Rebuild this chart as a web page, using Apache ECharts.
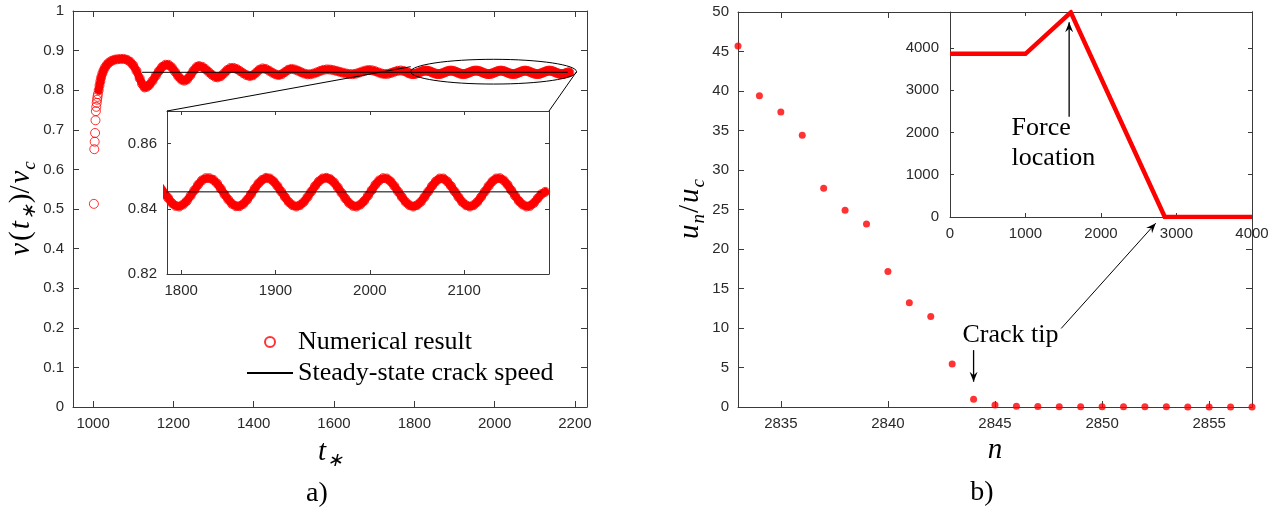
<!DOCTYPE html>
<html>
<head>
<meta charset="utf-8">
<script src="https://cdn.jsdelivr.net/npm/echarts@6/dist/echarts.min.js"></script>
<style>
html, body { margin: 0; padding: 0; background: #fff; }
#chart { width: 1280px; height: 514px; }
</style>
</head>
<body>
<div id="chart"></div>
<script>
// ---------- panel a) crack speed v(t*)/vc ----------
// first crack advances, steep start
var risePoints = [[1002,0.513],[1003,0.651],[1004,0.670],[1005,0.692],[1006,0.724],[1007,0.747],[1008,0.758],
    [1009,0.768],[1010,0.776],[1011,0.783],[1012,0.790],[1014,0.800],[1016,0.812],[1018,0.822],[1020,0.832],
    [1023,0.842],[1026,0.850],[1030,0.858],[1035,0.865],[1040,0.870],[1046,0.874],[1053,0.877]];
// decaying oscillation
var wavePoints = [[1060,0.878],[1068,0.879],[1076,0.879],[1084,0.877],[1092,0.872],[1100,0.863],[1108,0.849],
    [1116,0.830],[1122,0.816],[1128,0.807],[1134,0.8086],[1140,0.8132],[1148,0.8235],[1156,0.836],[1164,0.8485],
    [1172,0.8588],[1180,0.8643],[1188,0.8641],[1196,0.8576],[1204,0.8467],[1212,0.8352],[1220,0.8266],[1227,0.824],
    [1234,0.8271],[1242,0.8371],[1250,0.8493],[1258,0.8587],[1264,0.861],[1272,0.859],[1280,0.8532],[1288,0.8458],
    [1296,0.8388],[1304,0.8337],[1310,0.8325],[1318,0.8353],[1326,0.8425],[1334,0.8507],[1342,0.856],[1350,0.8563],
    [1358,0.8533],[1366,0.8483],[1374,0.8427],[1382,0.8381],[1390,0.8358],[1398,0.8375],[1406,0.8443],[1414,0.8518],
    [1422,0.855],[1430,0.8535],[1438,0.8495],[1446,0.8444],[1454,0.8402],[1462,0.8383],[1470,0.8403],[1478,0.846],
    [1486,0.8517],[1494,0.8537],[1502,0.8523],[1510,0.8493],[1518,0.8454],[1526,0.842],[1534,0.8402],[1542,0.8404],
    [1550,0.8423],[1558,0.8454],[1566,0.8488],[1574,0.8514],[1582,0.8525],[1590,0.8521],[1598,0.8508],[1606,0.8487],
    [1614,0.8465],[1622,0.8443],[1630,0.8422],[1638,0.8409],[1646,0.8405],[1654,0.8416],[1662,0.8441],[1670,0.8471],
    [1678,0.8496],[1686,0.851],[1694,0.8504],[1702,0.8482],[1710,0.8451],[1718,0.8423],[1726,0.8409],[1734,0.8413],
    [1742,0.8435],[1750,0.8464],[1758,0.8489],[1766,0.8498],[1774,0.8484],[1782,0.845]];
// late part
var tailPoints = [[1786,0.8434],[1790,0.8418],[1794,0.8409],[1798,0.8407],[1802,0.8413],[1806,0.8424],[1810,0.844],
    [1814,0.8457],[1818,0.8474],[1822,0.8487],[1826,0.8494],[1830,0.8494],[1834,0.8489],[1838,0.8478],[1842,0.8462],
    [1846,0.8444],[1850,0.8428],[1854,0.8415],[1858,0.8408],[1862,0.8408],[1866,0.8415],[1870,0.8428],[1874,0.8444],
    [1878,0.8462],[1882,0.8478],[1886,0.8489],[1890,0.8495],[1894,0.8493],[1898,0.8484],[1902,0.847],[1906,0.8453],
    [1910,0.8436],[1914,0.8421],[1918,0.8411],[1922,0.8407],[1926,0.8411],[1930,0.8421],[1934,0.8436],[1938,0.8453],
    [1942,0.847],[1946,0.8484],[1950,0.8493],[1954,0.8495],[1958,0.8491],[1962,0.8481],[1966,0.8466],[1970,0.8449],
    [1974,0.8432],[1978,0.8418],[1982,0.8409],[1986,0.8407],[1990,0.8413],[1994,0.8424],[1998,0.844],[2002,0.8457],
    [2006,0.8474],[2010,0.8487],[2014,0.8494],[2018,0.8493],[2022,0.8484],[2026,0.847],[2030,0.8453],[2034,0.8436],
    [2038,0.8421],[2042,0.8411],[2046,0.8407],[2050,0.8411],[2054,0.8421],[2058,0.8436],[2062,0.8453],[2066,0.847],
    [2070,0.8484],[2074,0.8493],[2078,0.8493],[2082,0.8484],[2086,0.847],[2090,0.8453],[2094,0.8436],[2098,0.8421],
    [2102,0.8411],[2106,0.8407],[2110,0.8411],[2114,0.8421],[2118,0.8436],[2122,0.8453],[2126,0.847],[2130,0.8484],
    [2134,0.8493],[2138,0.8494],[2142,0.8487],[2146,0.8474],[2150,0.8457],[2154,0.844],[2158,0.8424],[2162,0.8413],
    [2166,0.8407],[2170,0.8409],[2174,0.8418],[2178,0.8432],[2182,0.8445],[2186,0.8452]];
var numerical = risePoints.concat(wavePoints, tailPoints);
// where the circles overlap into a continuous band
var bandStartT = 1014;

var steadyT = [1122, 2182];
var steadySpeed = 0.8452;

var ticksTa = [1000, 1200, 1400, 1600, 1800, 2000, 2200];
var ticksVa = [0, 0.1, 0.2, 0.3, 0.4, 0.5, 0.6, 0.7, 0.8, 0.9, 1];
var ticksTzoom = [1800, 1900, 2000, 2100];
var ticksVzoom = [0.82, 0.84, 0.86];

// ---------- panel b) displacement u_n/u_c ----------
var nodeN = [2833, 2834, 2835, 2836, 2837, 2838, 2839, 2840, 2841, 2842, 2843, 2844, 2845,
    2846, 2847, 2848, 2849, 2850, 2851, 2852, 2853, 2854, 2855, 2856, 2857];
var uRatio = [45.7, 39.4, 37.35, 34.4, 27.7, 24.9, 23.15, 17.15, 13.2, 11.45, 5.45, 0.98, 0.25,
    0.08, 0.05, 0.04, 0.03, 0.03, 0.02, 0.02, 0.02, 0.01, 0.01, 0.01, 0.01];
// whole chain, inset
var chainN = [0, 1000, 1600, 2845, 4000];
var chainU = [3860, 3860, 4840, 0, 0];

var ticksNb = [2835, 2840, 2845, 2850, 2855];
var ticksNbTop = [2835, 2840];          // the rest is under the inset
var ticksUb = [0, 5, 10, 15, 20, 25, 30, 35, 40, 45, 50];
var ticksUbRight = [5, 10, 15, 20];
var ticksChainN = [0, 1000, 2000, 3000, 4000];
var ticksChainU = [0, 1000, 2000, 3000, 4000];

var axisColor = '#3a3a3a';
var labelColor = '#2a2a2a';
var serif = 'Liberation Serif';

var mathRich = {
    i: { fontFamily: serif, fontStyle: 'italic', fontSize: 29, lineHeight: 36, color: '#000', padding: [0, 1, 0, 1] },
    r: { fontFamily: serif, fontSize: 29, lineHeight: 36, color: '#000', padding: [0, 1, 0, 1] },
    s: { fontFamily: serif, fontStyle: 'italic', fontSize: 19, lineHeight: 19, verticalAlign: 'bottom', color: '#000' }
};

function valueAxis(grid, pos, min, max, ticks, labels, tickLen, margin, extra) {
    var ax = {
        type: 'value', gridIndex: grid, position: pos, min: min, max: max,
        axisLine: { show: true, onZero: false, lineStyle: { color: axisColor, width: 1 } },
        axisTick: { show: true, inside: true, length: tickLen, customValues: ticks, lineStyle: { color: axisColor } },
        axisLabel: { show: labels, customValues: ticks, margin: margin, color: labelColor,
            fontFamily: 'Liberation Sans', fontSize: 15,
            formatter: function (v) { return String(v); } },
        splitLine: { show: false }
    };
    for (var k in extra) ax[k] = extra[k];
    return ax;
}

var xAxes = [
    valueAxis(0, 'bottom', 950, 2230, ticksTa, true, 6, 9, {
        name: '{i|t}{s|∗}', nameLocation: 'middle', nameGap: 27, nameTextStyle: { rich: mathRich } }),
    valueAxis(0, 'top', 950, 2230, ticksTa, false, 6, 9),
    valueAxis(1, 'bottom', 1785, 2190, ticksTzoom, true, 4, 9),
    valueAxis(1, 'top', 1785, 2190, ticksTzoom, false, 4, 9),
    valueAxis(2, 'bottom', 2833, 2857, ticksNb, true, 6, 9, {
        name: '{i|n}', nameLocation: 'middle', nameGap: 25, nameTextStyle: { rich: mathRich } }),
    valueAxis(2, 'top', 2833, 2857, ticksNbTop, false, 6, 9),
    valueAxis(3, 'bottom', 0, 4000, ticksChainN, true, 4, 9),
    valueAxis(3, 'top', 0, 4000, ticksChainN, false, 4, 9)
];
var yAxes = [
    valueAxis(0, 'left', 0, 1, ticksVa, true, 6, 9, {
        name: '{i|v}{r|(}{i|t}{s|∗}{r|)/}{i|v}{s|c}', nameLocation: 'middle', nameGap: 31,
        nameTextStyle: { rich: mathRich } }),
    valueAxis(0, 'right', 0, 1, ticksVa, false, 6, 9),
    valueAxis(1, 'left', 0.82, 0.87, ticksVzoom, true, 4, 10),
    valueAxis(1, 'right', 0.82, 0.87, ticksVzoom, false, 4, 10),
    valueAxis(2, 'left', 0, 50, ticksUb, true, 6, 9, {
        name: '{i|u}{s|n}{r|/}{i|u}{s|c}', nameLocation: 'middle', nameGap: 25,
        nameTextStyle: { rich: mathRich } }),
    valueAxis(2, 'right', 0, 50, ticksUbRight, false, 6, 9),
    valueAxis(3, 'left', 0, 4850, ticksChainU, true, 4, 11),
    valueAxis(3, 'right', 0, 4850, ticksChainU, false, 4, 11)
];

var ringStyle = { color: 'rgba(255,255,255,0)', borderColor: '#ff0000', borderWidth: 1 };
var steadyLine = steadyT.map(function (t) { return [t, steadySpeed]; });
var bandPoints = numerical.filter(function (p) { return p[0] >= bandStartT; });

function ringSeries(ax) {
    return { type: 'scatter', name: 'Numerical result', xAxisIndex: ax, yAxisIndex: ax, data: numerical,
        symbol: 'circle', symbolSize: 9, itemStyle: ringStyle, z: 2, clip: true };
}
// densely overlapping circles read as a solid band
function bandSeries(ax, w) {
    return { type: 'line', name: 'band', xAxisIndex: ax, yAxisIndex: ax, data: bandPoints, symbol: 'none',
        lineStyle: { color: '#ff0000', width: w, join: 'round', cap: 'round' }, z: 1, silent: true };
}
function steadySeries(ax) {
    return { type: 'line', name: 'Steady-state crack speed', xAxisIndex: ax, yAxisIndex: ax, data: steadyLine,
        symbol: 'none', showSymbol: false, lineStyle: { color: '#000', width: 1 }, itemStyle: { color: '#000' }, z: 3 };
}

var option = {
    animation: false,
    backgroundColor: '#fff',
    grid: [
        { left: 73, top: 11, width: 514, height: 396, outerBoundsMode: 'none' },
        { left: 167, top: 111, width: 382, height: 163, outerBoundsMode: 'none' },
        { left: 738, top: 12, width: 514, height: 395, outerBoundsMode: 'none' },
        { left: 950, top: 12, width: 302, height: 205, outerBoundsMode: 'none' }
    ],
    xAxis: xAxes,
    yAxis: yAxes,
    legend: {
        data: [
            { name: 'Numerical result' },
            { name: 'Steady-state crack speed', itemStyle: { opacity: 0 } }
        ],
        orient: 'vertical', left: 246, top: 329, padding: 0, itemGap: 5,
        itemWidth: 46, itemHeight: 10, selectedMode: false,
        textStyle: { fontFamily: serif, fontSize: 26, lineHeight: 26, color: '#000' }
    },
    series: [
        bandSeries(0, 8),
        ringSeries(0),
        steadySeries(0),
        bandSeries(2, 8),
        ringSeries(2),
        steadySeries(2),
        { type: 'scatter', name: 'u', xAxisIndex: 4, yAxisIndex: 4,
          data: nodeN.map(function (n, i) { return [n, uRatio[i]]; }),
          symbol: 'circle', symbolSize: 7, itemStyle: { color: '#ff0000' } },
        { type: 'line', name: 'chain', xAxisIndex: 6, yAxisIndex: 6,
          data: chainN.map(function (n, i) { return [n, chainU[i]]; }),
          symbol: 'none', lineStyle: { color: '#ff0000', width: 4.5, join: 'miter' } }
    ]
};

var chart = echarts.init(document.getElementById('chart'), null, { renderer: 'canvas' });
chart.setOption(option);

// ---------- annotations, placed from data coordinates ----------
function px(g, p) {
    return chart.convertToPixel({ xAxisIndex: 2 * g, yAxisIndex: 2 * g }, p);
}
function arrowHead(tip, from, len, half) {
    var dx = tip[0] - from[0], dy = tip[1] - from[1];
    var d = Math.sqrt(dx * dx + dy * dy), ux = dx / d, uy = dy / d;
    var bx = tip[0] - ux * len, by = tip[1] - uy * len;
    var mx = tip[0] - ux * len * 0.65, my = tip[1] - uy * len * 0.65;
    return [tip, [bx - uy * half, by + ux * half], [mx, my], [bx + uy * half, by - ux * half]];
}
function arrow(from, tip, width) {
    return [
        { type: 'line', z: 100, shape: { x1: from[0], y1: from[1], x2: tip[0], y2: tip[1] },
          style: { stroke: '#000', lineWidth: width } },
        { type: 'polygon', z: 100, shape: { points: arrowHead(tip, from, 10, 4) }, style: { fill: '#000' } }
    ];
}
function label(text, p, align, size) {
    return { type: 'text', z: 100, x: p[0], y: p[1],
        style: { text: text, fontFamily: serif, fontSize: size, lineHeight: 30, fill: '#000',
                 textAlign: align, textVerticalAlign: 'middle' } };
}

var g = [];
// ellipse around the late oscillations and its links to the inset
var eL = px(0, [1791, 0.8466]), eR = px(0, [2204, 0.8466]);
var eT = px(0, [1997, 0.878]), eB = px(0, [1997, 0.8155]);
var ecx = (eL[0] + eR[0]) / 2, ecy = (eT[1] + eB[1]) / 2;
g.push({ type: 'ellipse', z: 100, shape: { cx: ecx, cy: ecy, rx: (eR[0] - eL[0]) / 2, ry: (eB[1] - eT[1]) / 2 },
    style: { fill: 'none', stroke: '#000', lineWidth: 1 } });
var inTL = px(1, [1785, 0.87]), inTR = px(1, [2190, 0.87]);
g.push({ type: 'line', z: 100, shape: { x1: inTL[0], y1: inTL[1], x2: eL[0], y2: ecy - 5 },
    style: { stroke: '#000', lineWidth: 1 } });
g.push({ type: 'line', z: 100, shape: { x1: inTR[0], y1: inTR[1], x2: eR[0], y2: ecy },
    style: { stroke: '#000', lineWidth: 1 } });

// force location
g = g.concat(arrow(px(3, [1578, 2373]), px(3, [1578, 4606]), 1.3));
g.push(label('Force\nlocation', px(3, [816, 1752]), 'left', 26));
// crack tip
g.push(label('Crack tip', px(2, [2843.48, 9.1]), 'left', 26));
g = g.concat(arrow(px(2, [2844, 7.2]), px(2, [2844, 3.2]), 1.3));
g = g.concat(arrow(px(2, [2848.09, 9.94]), px(3, [2725, -146]), 1));
// panel letters
g.push(label('a)', [317, 494], 'center', 28));
g.push(label('b)', [982, 493], 'center', 28));

chart.setOption({ graphic: g });
</script>
</body>
</html>
